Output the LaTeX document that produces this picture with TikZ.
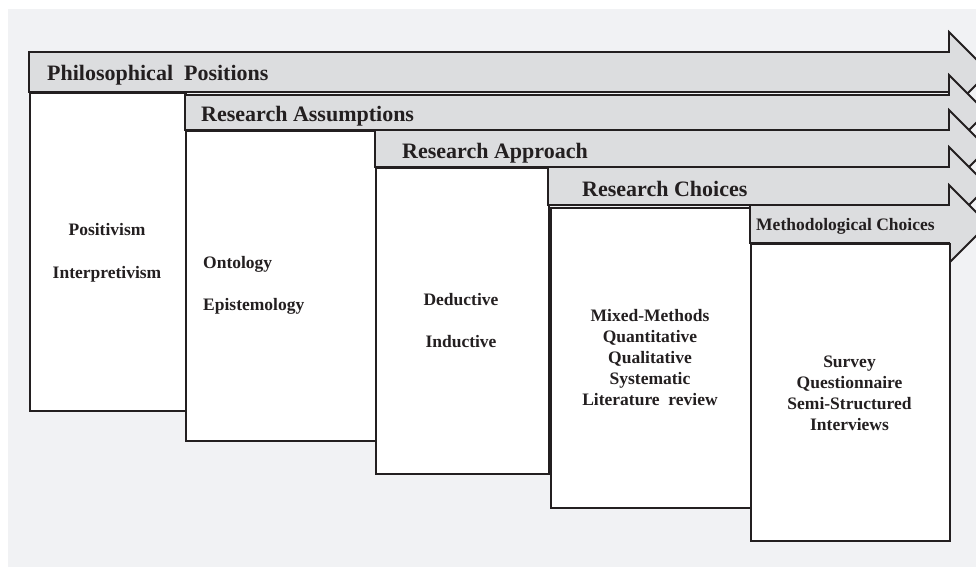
\documentclass[tikz,border=0pt]{standalone}
\usepackage{fontspec}
\setmainfont{Liberation Serif}
\usetikzlibrary{positioning}
\definecolor{hgrund}{HTML}{F1F2F4}
\definecolor{balken}{HTML}{DCDDDF}
\definecolor{linie}{HTML}{231F20}

\begin{document}
\begin{tikzpicture}[x=1pt,y=-1pt]
	\tikzstyle{every node}=[font=\bfseries\fontsize{17.5}{21}\selectfont, text=linie]
	\tikzstyle{pfeil}=[draw=linie, line width=1.8pt, fill=balken, line join=miter]
	\tikzstyle{kasten}=[draw=linie, line width=1.8pt, fill=white, anchor=north west, inner sep=0pt]
	\tikzstyle{titel}=[anchor=west, inner sep=0pt, font=\bfseries\fontsize{22}{26}\selectfont]
	
	%Hintergrund
	\clip (0,0) rectangle (976,567);
	\fill[hgrund] (8,9) rectangle (976,567);
	
	%Pfeile und Kaesten
	\draw[pfeil] (29,52) -- (949,52) -- (949,32) -- (989,72) -- (949,112) -- (949,92) -- (29,92) -- cycle;
	\node[kasten, minimum width=156, minimum height=318] (k1) at (29,92) {};
	\draw[pfeil] (185,95) -- (949,95) -- (949,75) -- (986.5,112.5) -- (949,150) -- (949,130) -- (185,130) -- cycle;
	\node[kasten, minimum width=190, minimum height=310] (k2) at (185,130) {};
	\draw[pfeil] (375,130) -- (949,130) -- (949,110) -- (987.5,148.5) -- (949,187) -- (949,167) -- (375,167) -- cycle;
	\node[kasten, minimum width=173, minimum height=306] (k3) at (375,167) {};
	\draw[pfeil] (548,167) -- (949,167) -- (949,147) -- (988,186) -- (949,225) -- (949,205) -- (548,205) -- cycle;
	\node[kasten, minimum width=200, minimum height=300] (k4) at (550,207) {};
	\draw[pfeil] (750,205) -- (949,205) -- (949,185) -- (988,224) -- (949,263) -- (949,243) -- (750,243) -- cycle;
	\node[kasten, minimum width=199, minimum height=297] (k5) at (750,243) {};
	
	%Titel
	\node[titel] (t1) at (47,75) {Philosophical\ \ Positions};
	\node[titel] (t2) at (201,116) {Research Assumptions};
	\node[titel] (t3) at (402,153) {Research Approach};
	\node[titel] (t4) at (582,189) {Research Choices};
	\node[titel, font=\bfseries\fontsize{17.5}{21}\selectfont] (t5) at (756,226) {Methodological Choices};
	
	%Inhalte
	\node[align=center] (i1) at (107,252.5) {Positivism\\[22pt]Interpretivism};
	\node[align=left, anchor=west, inner sep=0pt] (i2) at (203,285) {Ontology\\[21pt]Epistemology};
	\node[align=center] (i3) at (461,321) {Deductive\\[21pt]Inductive};
	\node[align=center] (i4) at (650,357.5) {Mixed-Methods\\Quantitative\\Qualitative\\Systematic\\Literature\ \ review};
	\node[align=center] (i5) at (849.5,393.5) {Survey\\Questionnaire\\Semi-Structured\\Interviews};
	
\end{tikzpicture}
\end{document}
